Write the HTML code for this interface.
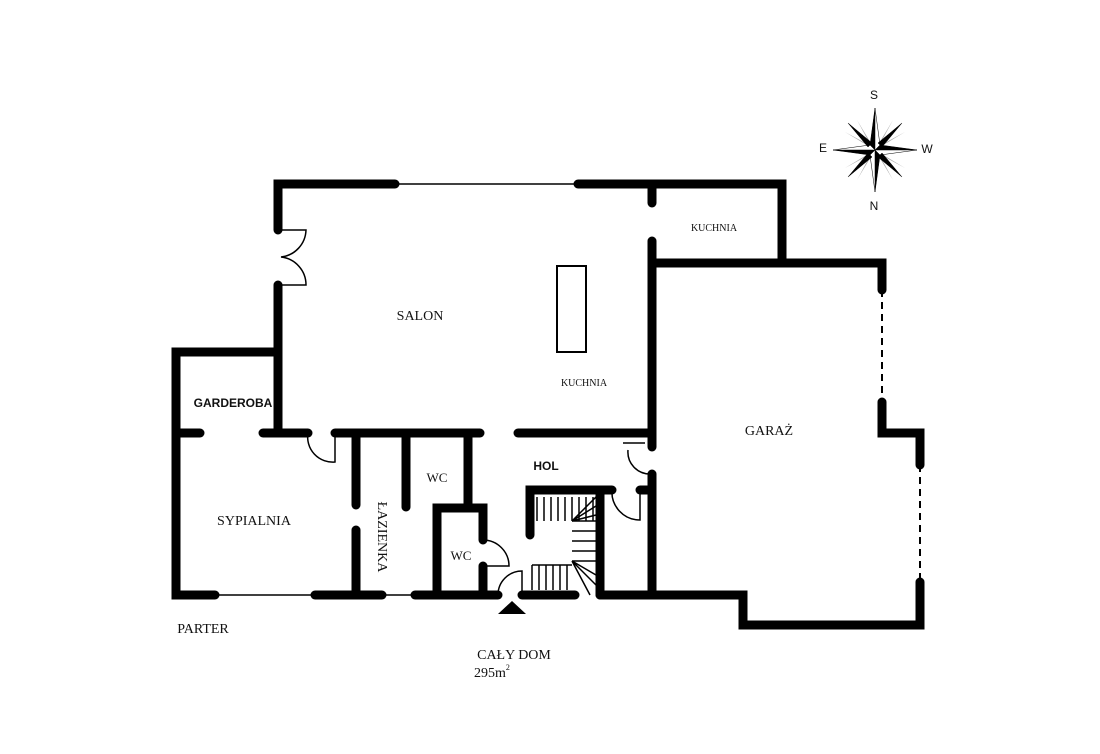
<!DOCTYPE html>
<html><head><meta charset="utf-8"><style>
html,body{margin:0;padding:0;background:#fff;}
svg{display:block;}
text{font-family:"Liberation Serif",serif;fill:#111;}
.s{font-family:"Liberation Sans",sans-serif;}
</style></head><body>
<svg width="1100" height="754" viewBox="0 0 1100 754" xmlns="http://www.w3.org/2000/svg">
<g stroke="#000" stroke-width="9" stroke-linecap="round" stroke-linejoin="miter" fill="none">
<!-- top -->
<polyline points="278,230 278,184 395,184"/>
<polyline points="578,184 782,184 782,263"/>
<line x1="652" y1="184" x2="652" y2="203"/>
<line x1="278" y1="285" x2="278" y2="432"/>
<line x1="652" y1="241" x2="652" y2="447"/>
<line x1="652" y1="474" x2="652" y2="595"/>
<polyline points="652,263 882,263 882,290"/>
<polyline points="882,402 882,433 920,433 920,465"/>
<polyline points="920,582 920,625 743,625 743,595 600,595"/>
<!-- left -->
<polyline points="278,352 176,352 176,595 215,595"/>
<line x1="176" y1="433" x2="200" y2="433"/>
<line x1="263" y1="433" x2="308" y2="433"/>
<line x1="335" y1="433" x2="480" y2="433"/>
<line x1="518" y1="433" x2="652" y2="433"/>
<line x1="315" y1="595" x2="382" y2="595"/>
<line x1="415" y1="595" x2="498" y2="595"/>
<line x1="522" y1="595" x2="575" y2="595"/>
<line x1="356" y1="433" x2="356" y2="505"/>
<line x1="356" y1="530" x2="356" y2="595"/>
<line x1="406" y1="433" x2="406" y2="507"/>
<line x1="468" y1="433" x2="468" y2="505"/>
<polyline points="437,595 437,508 483,508 483,540"/>
<line x1="483" y1="566" x2="483" y2="595"/>
<!-- stairs -->
<polyline points="530,535 530,490 612,490"/>
<line x1="600" y1="490" x2="600" y2="595"/>
<line x1="640" y1="490" x2="652" y2="490"/>
</g>
<g stroke="#000" stroke-width="1.5" fill="none">
<line x1="395" y1="184" x2="578" y2="184"/>
<line x1="215" y1="595" x2="315" y2="595"/>
<line x1="382" y1="595" x2="415" y2="595"/>
<line x1="882" y1="290" x2="882" y2="402" stroke-dasharray="7,5" stroke-width="2"/>
<line x1="920" y1="465" x2="920" y2="582" stroke-dasharray="7,5" stroke-width="2"/>
<!-- salon door -->
<path d="M278,230 L306,230 A28,28 0 0 1 281,257 A28,28 0 0 1 306,285 L278,285"/>
<!-- sypialnia door -->
<path d="M308,433 A25,25 0 0 0 335,462 L335,433"/>
<!-- hol door -->
<path d="M623,443 L645,443 M628,450 A22,22 0 0 0 650,474"/>
<!-- stair right door -->
<path d="M612,490 A28,28 0 0 0 640,520 L640,490"/>
<!-- wc2 door -->
<path d="M483,540 A26,26 0 0 1 509,566 L483,566"/>
<!-- entrance door -->
<path d="M498,595 A24,24 0 0 1 522,571 L522,595"/>
<!-- island -->
<rect x="557" y="266" width="29" height="86" stroke-width="2"/>
<!-- stairs treads -->
<path d="M537,497 V521 M544,497 V521 M551,497 V521 M558,497 V521 M565,497 V521 M572,497 V521 M579,497 V521 M586,497 V521 M593,497 V521"/>
<path d="M572,521 L596,497 M572,521 L596,506 M572,521 L596,515"/>
<path d="M572,521 H596 M572,531 H596 M572,541 H596 M572,551 H596 M572,561 H596"/>
<path d="M572,561 L596,575 M572,561 L596,585 M572,561 L590,595"/>
<path d="M532,565 V590 M539,565 V590 M546,565 V590 M553,565 V590 M560,565 V590 M567,565 V590 M532,565 H572"/>
</g>
<polygon points="498,614 512,601 526,614" fill="#000"/>
<!-- compass -->
<g transform="translate(875,150)">
<g fill="#aaa"><polygon points="0,0 -30,-18 -4,-4"/><polygon points="0,0 30,-18 4,-4"/><polygon points="0,0 -30,18 -4,4"/><polygon points="0,0 30,18 4,4"/><polygon points="0,0 -18,-30 -4,-4"/><polygon points="0,0 18,-30 4,-4"/><polygon points="0,0 -18,30 -4,4"/><polygon points="0,0 18,30 4,4"/></g>
<g fill="#000" stroke="#000" stroke-width="0.5">
<polygon points="0,-42 -5,-5 0,0"/><polygon points="0,-42 5,-5 0,0" fill="#fff"/>
<polygon points="0,42 5,5 0,0"/><polygon points="0,42 -5,5 0,0" fill="#fff"/>
<polygon points="-42,0 -5,5 0,0"/><polygon points="-42,0 -5,-5 0,0" fill="#fff"/>
<polygon points="42,0 5,-5 0,0"/><polygon points="42,0 5,5 0,0" fill="#fff"/>
<polygon points="-27,-27 -3,-7 -7,-3"/><polygon points="27,-27 7,-3 3,-7"/>
<polygon points="-27,27 -7,3 -3,7"/><polygon points="27,27 3,7 7,3"/>
</g></g>
<text class="s" x="874" y="99" font-size="12" text-anchor="middle">S</text>
<text class="s" x="874" y="210" font-size="12" text-anchor="middle">N</text>
<text class="s" x="823" y="152" font-size="12" text-anchor="middle">E</text>
<text class="s" x="927" y="153" font-size="12" text-anchor="middle">W</text>
<!-- labels -->
<text x="420" y="320" font-size="14" text-anchor="middle">SALON</text>
<text x="714" y="231" font-size="10" text-anchor="middle">KUCHNIA</text>
<text x="584" y="386" font-size="10" text-anchor="middle">KUCHNIA</text>
<text class="s" x="233" y="407" font-size="12" font-weight="bold" text-anchor="middle">GARDEROBA</text>
<text x="769" y="435" font-size="14" text-anchor="middle">GARAŻ</text>
<text class="s" x="546" y="470" font-size="12" font-weight="bold" text-anchor="middle">HOL</text>
<text x="437" y="482" font-size="13" text-anchor="middle">WC</text>
<text x="461" y="560" font-size="13" text-anchor="middle">WC</text>
<text x="254" y="525" font-size="14" text-anchor="middle">SYPIALNIA</text>
<text x="0" y="0" font-size="14" text-anchor="middle" transform="translate(378,537) rotate(90)">ŁAZIENKA</text>
<text x="203" y="633" font-size="14" text-anchor="middle">PARTER</text>
<text x="514" y="659" font-size="14" text-anchor="middle">CAŁY DOM</text>
<text x="474" y="677" font-size="14">295m<tspan font-size="8" dy="-7">2</tspan></text>
</svg>
</body></html>
